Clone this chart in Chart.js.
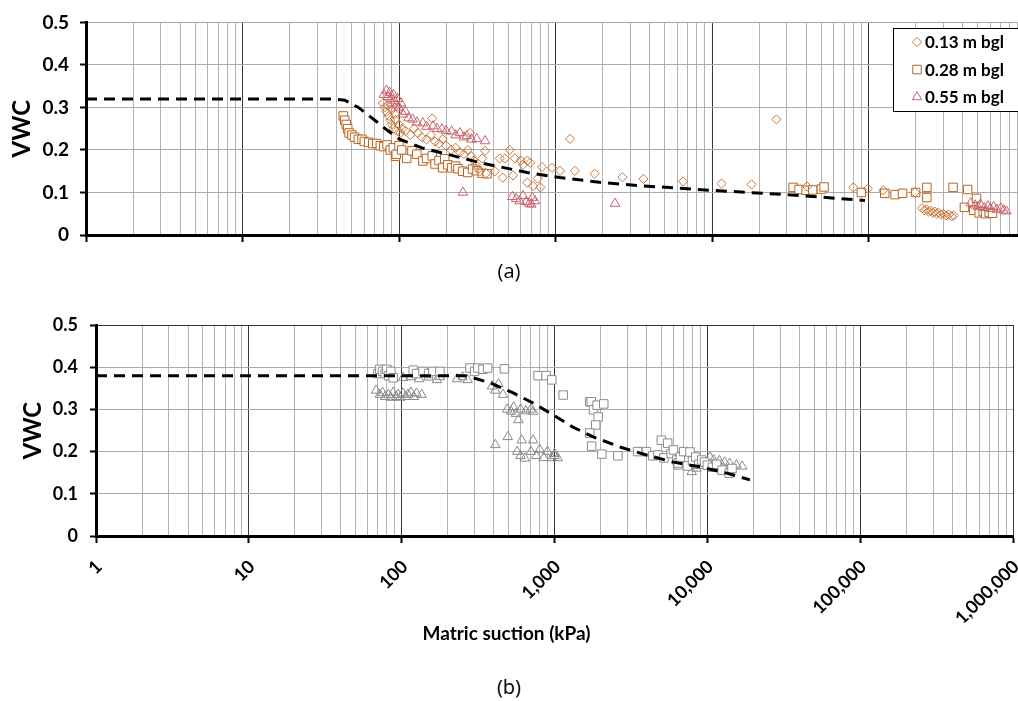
<!DOCTYPE html>
<html>
<head>
<meta charset="utf-8">
<script src="https://cdn.jsdelivr.net/npm/chart.js@4.4.1/dist/chart.umd.min.js"></script>
<style>
  html, body { margin: 0; padding: 0; background: #fff; width: 1018px; height: 701px; overflow: hidden; }
  #wrapA { position: absolute; left: 0; top: 0; width: 1018px; height: 260px; overflow: hidden; }
  #wrapB { position: absolute; left: 0; top: 300px; width: 1018px; height: 350px; overflow: hidden; }
  .cap { position: absolute; left: 0; width: 1018px; text-align: center; font-family: "Open Sans", sans-serif; font-size: 20px; color: #000; }
</style>
</head>
<body>
<div id="wrapA"><canvas id="chartA" width="1040" height="260"></canvas></div>
<div class="cap" style="top:257px">(a)</div>
<div id="wrapB"><canvas id="chartB" width="1030" height="350"></canvas></div>
<div class="cap" style="top:673px">(b)</div>

<script>
// ---- Panel (a): field sensors at three depths ----
const depthLabels = ['0.13 m bgl', '0.28 m bgl', '0.55 m bgl'];

const suction013 = [79, 81, 83, 85, 86, 88, 90, 90, 92, 94, 95, 97, 100, 102, 105, 110, 118, 125, 132, 140,
  150, 160, 163, 170, 180, 190, 200, 215, 230, 245, 260, 275, 284, 290, 300, 310, 320, 330, 340, 355,
  360, 410, 440, 460, 475, 510, 535, 550, 600, 620, 660, 660, 690, 720, 770, 800, 820, 950, 1070, 1240,
  1330, 1780, 2680, 3650, 6540, 11500, 17900, 25800, 40500, 80000, 99000, 124000, 198000, 220000, 228000, 235000,
  242000, 250000, 258000, 265000, 272000, 280000, 290000, 300000, 312000, 325000, 340000, 350000];
const vwc013 = [0.31, 0.30, 0.29, 0.305, 0.28, 0.27, 0.295, 0.26, 0.25, 0.285, 0.27, 0.245, 0.26, 0.24, 0.25, 0.245, 0.235, 0.25, 0.24, 0.23,
  0.225, 0.235, 0.274, 0.22, 0.215, 0.225, 0.21, 0.20, 0.205, 0.195, 0.19, 0.20, 0.24, 0.185, 0.175, 0.165, 0.155, 0.15, 0.18, 0.198,
  0.145, 0.15, 0.18, 0.135, 0.18, 0.20, 0.14, 0.18, 0.175, 0.165, 0.175, 0.123, 0.17, 0.115, 0.133, 0.112, 0.16, 0.158, 0.151, 0.226,
  0.151, 0.144, 0.136, 0.132, 0.126, 0.121, 0.119, 0.272, 0.114, 0.112, 0.109, 0.105, 0.10, 0.063, 0.058, 0.06,
  0.055, 0.057, 0.052, 0.055, 0.05, 0.053, 0.048, 0.05, 0.046, 0.048, 0.044, 0.046];

const suction028 = [44, 45, 46, 47, 48, 50, 52, 55, 58, 60, 64, 68, 72, 76, 80, 84, 88, 92, 95, 96,
  100, 104, 112, 121, 130, 142, 150, 163, 170, 180, 190, 196, 205, 217, 230, 238, 255, 275, 295, 315,
  340, 365, 33000, 36000, 40000, 44000, 50000, 52000, 90000, 127000, 148000, 165000, 200000, 236000, 236000, 347000,
  430000, 410000, 470000, 490000, 510000, 540000, 560000, 590000, 620000];
const vwc028 = [0.28, 0.27, 0.26, 0.25, 0.24, 0.235, 0.23, 0.225, 0.225, 0.22, 0.218, 0.215, 0.215, 0.21, 0.208, 0.212, 0.20, 0.205, 0.185, 0.19,
  0.21, 0.20, 0.18, 0.198, 0.19, 0.174, 0.18, 0.186, 0.167, 0.175, 0.158, 0.179, 0.165, 0.158, 0.162, 0.156, 0.15, 0.147, 0.155, 0.151,
  0.145, 0.144, 0.112, 0.107, 0.105, 0.106, 0.108, 0.113, 0.10, 0.098, 0.095, 0.098, 0.10, 0.112, 0.088, 0.112,
  0.107, 0.065, 0.058, 0.086, 0.052, 0.055, 0.05, 0.053, 0.051];

const suction055 = [80, 83, 85, 87, 89, 90, 92, 94, 96, 98, 100, 103,
  106, 110, 115, 122, 130, 142, 150, 165, 175, 188, 200, 217, 230, 245, 260, 271, 290, 314, 355,
  256, 530, 560, 590, 620, 650, 680, 710, 740, 700, 2400,
  450000, 480000, 500000, 520000, 550000, 580000, 600000, 630000, 660000, 700000, 730000, 760000];
const vwc055 = [0.33, 0.34, 0.325, 0.335, 0.32, 0.31, 0.33, 0.315, 0.305, 0.32, 0.30, 0.31,
  0.284, 0.29, 0.275, 0.272, 0.265, 0.263, 0.255, 0.256, 0.25, 0.249, 0.245, 0.244, 0.235, 0.24, 0.23, 0.233, 0.225, 0.226, 0.221,
  0.10, 0.09, 0.085, 0.08, 0.092, 0.078, 0.074, 0.088, 0.08, 0.072, 0.074,
  0.075, 0.07, 0.066, 0.072, 0.064, 0.068, 0.062, 0.066, 0.06, 0.063, 0.058, 0.056];

// retention curve, panel (a)
const fitSuctionA = [1, 38, 45, 55, 70, 85, 100, 140, 203, 330, 658, 1070, 1910, 3470, 10000, 36500, 95000];
const fitVwcA = [0.32, 0.32, 0.317, 0.30, 0.27, 0.245, 0.226, 0.205, 0.19, 0.170, 0.147, 0.135, 0.124, 0.116, 0.105, 0.093, 0.081];

// ---- Panel (b): laboratory drying data ----
const suctionSqB = [70, 72, 75, 78, 80, 82, 85, 88, 119, 125, 138, 150, 160, 178, 280, 300, 315, 340, 365, 470,
  780, 880, 960, 1140, 1700, 1740, 1800, 1900, 2100, 1930, 1860, 1700, 1750, 2040, 2600,
  3500, 4000, 4400, 4750, 5000, 5200, 5500, 5800, 6000, 6300, 6450, 6660, 7000, 7400, 7700, 8000,
  8400, 8800, 9200, 9600, 10000, 10800, 11500, 12500, 13900, 14500];
const vwcSqB = [0.385, 0.395, 0.39, 0.385, 0.395, 0.38, 0.39, 0.375, 0.393, 0.385, 0.39, 0.385, 0.39, 0.39, 0.398, 0.39, 0.398, 0.395, 0.398, 0.396,
  0.38, 0.38, 0.37, 0.334, 0.318, 0.318, 0.299, 0.31, 0.313, 0.282, 0.263, 0.244, 0.213, 0.194, 0.19,
  0.20, 0.20, 0.19, 0.192, 0.227, 0.185, 0.22, 0.195, 0.204, 0.18, 0.173, 0.187, 0.20, 0.166, 0.199, 0.178,
  0.187, 0.17, 0.18, 0.175, 0.168, 0.163, 0.17, 0.156, 0.149, 0.16];

const suctionTriB = [68, 72, 75, 78, 82, 85, 88, 92, 95, 98, 102, 106, 110, 115, 120, 125, 135,
  102, 115, 130, 150, 170, 178, 230, 250, 270,
  390, 410, 430, 460,
  490, 520, 540, 560, 580, 600, 650, 700, 725,
  410, 495, 610, 725, 570, 600, 640, 700, 760, 800, 850, 900, 960, 1000, 1000, 1050,
  6500, 7900, 8500, 9000, 10400, 11000, 12000, 13000, 14000, 15500, 16900];
const vwcTriB = [0.345, 0.335, 0.34, 0.33, 0.335, 0.328, 0.34, 0.33, 0.335, 0.328, 0.338, 0.33, 0.335, 0.34, 0.33, 0.338, 0.335,
  0.375, 0.377, 0.372, 0.376, 0.37, 0.377, 0.372, 0.377, 0.37,
  0.355, 0.345, 0.36, 0.335,
  0.30, 0.295, 0.305, 0.29, 0.275, 0.30, 0.296, 0.30, 0.295,
  0.216, 0.235, 0.227, 0.227, 0.20, 0.19, 0.184, 0.20, 0.19, 0.205, 0.185, 0.20, 0.185, 0.19, 0.195, 0.185,
  0.165, 0.152, 0.16, 0.17, 0.187, 0.18, 0.178, 0.175, 0.172, 0.168, 0.165];

// retention curve, panel (b)
const fitSuctionB = [1, 252, 267, 380, 537, 725, 980, 1320, 1790, 2680, 4000, 5980, 8950, 13400, 19000];
const fitVwcB = [0.38, 0.38, 0.379, 0.363, 0.339, 0.315, 0.287, 0.258, 0.235, 0.211, 0.192, 0.175, 0.164, 0.149, 0.133];

// ---- axis ticks ----
const suctionDecades = [1, 10, 100, 1000, 10000, 100000, 1000000];
const suctionTickLabels = ['1', '10', '100', '1,000', '10,000', '100,000', '1,000,000'];
const vwcTicks = [0, 0.1, 0.2, 0.3, 0.4, 0.5];
const vwcTickLabels = ['0', '0.1', '0.2', '0.3', '0.4', '0.5'];

const FONT = 'Lato';
const COL013 = '#C87638';
const COL028 = '#B8641F';
const COL055 = '#C8646E';
const GREY = '#8a8a8a';

function pts(xs, ys) { return xs.map((x, i) => ({ x: x, y: ys[i] })); }

// all grid values 1..9 x 10^k between the decades
const gridValues = [];
for (let e = 0; e < suctionDecades.length - 1; e++) {
  for (let m = 1; m <= 9; m++) gridValues.push(m * suctionDecades[e]);
}
gridValues.push(suctionDecades[suctionDecades.length - 1]);
const isDecade = v => suctionDecades.indexOf(v) >= 0;

function xScale(opts) {
  return {
    type: 'logarithmic', min: 1, max: 1000000,
    afterBuildTicks: s => { s.ticks = gridValues.map(v => ({ value: v })); },
    ticks: {
      display: opts.labels, autoSkip: false, minRotation: 45, maxRotation: 45, padding: 13, labelOffset: 3,
      color: '#000', font: { family: FONT, weight: 'bold', size: 18 },
      callback: v => { const i = suctionDecades.indexOf(v); return i >= 0 ? suctionTickLabels[i] : ''; }
    },
    grid: {
      color: c => (c.tick && isDecade(c.tick.value)) ? '#3a3a3a' : '#b4b4b4',
      lineWidth: 1, tickLength: 7, tickWidth: 2,
      tickColor: c => (c.tick && isDecade(c.tick.value)) ? '#000' : 'rgba(0,0,0,0)'
    },
    border: { color: '#000', width: 3 },
    afterFit: s => { s.height = opts.height; s.paddingLeft = 0; s.paddingRight = 0; }
  };
}

function yScale(opts) {
  return {
    min: 0, max: 0.5,
    afterBuildTicks: s => { s.ticks = vwcTicks.map(v => ({ value: v })); },
    ticks: {
      color: '#000', padding: opts.pad, font: { family: FONT, weight: 'bold', size: opts.size },
      callback: (v, i) => vwcTickLabels[i]
    },
    grid: {
      color: c => (opts.darkTop && c.tick && c.tick.value === 0.5) ? '#333' : '#aaaaaa',
      lineWidth: 1, tickLength: 6, tickWidth: 2, tickColor: '#000'
    },
    border: { color: '#000', width: 3 },
    title: {
      display: true, text: 'VWC', color: '#000',
      font: { family: FONT, weight: 'bold', size: 24 }, padding: { top: opts.titlePad, bottom: 0 }
    },
    afterFit: s => { s.width = opts.width; }
  };
}

function markerSet(label, xs, ys, style, colour, radius, fill) {
  return {
    label: label, data: pts(xs, ys), pointStyle: style, pointRadius: radius,
    pointBorderColor: colour, pointBackgroundColor: fill, pointBorderWidth: 1,
    showLine: false, order: 2
  };
}

function curveSet(xs, ys) {
  return {
    label: 'fit', data: pts(xs, ys), showLine: true, pointRadius: 0,
    borderColor: '#000', borderWidth: 3, borderDash: [11, 7], tension: 0, order: 0
  };
}

// in-plot legend box for panel (a)
const legendBox = {
  id: 'legendBox',
  afterDraw(chart) {
    const ctx = chart.ctx;
    const rows = chart.data.datasets.filter(d => d.legendRow !== undefined);
    ctx.save();
    ctx.fillStyle = '#fff';
    ctx.strokeStyle = '#000';
    ctx.lineWidth = 1;
    ctx.fillRect(893.5, 28.5, 160, 83);
    ctx.strokeRect(893.5, 28.5, 160, 83);
    rows.forEach(d => {
      const y = 42 + d.legendRow * 27.5;
      ctx.strokeStyle = d.pointBorderColor;
      ctx.fillStyle = '#fff';
      Chart.helpers.drawPoint(ctx, { pointStyle: d.pointStyle, radius: d.pointRadius, rotation: 0, borderWidth: 1 }, 917, y);
      ctx.fillStyle = '#000';
      ctx.font = 'bold 17px ' + FONT;
      ctx.textBaseline = 'middle';
      ctx.textAlign = 'left';
      ctx.fillText(d.label, 925, y + 1);
    });
    ctx.restore();
  }
};

const common = {
  responsive: false, animation: false, events: [],
  plugins: { legend: { display: false }, tooltip: { enabled: false } }
};

// panel (a)
const setsA = [
  curveSet(fitSuctionA, fitVwcA),
  Object.assign(markerSet(depthLabels[2], suction055, vwc055, 'triangle', COL055, 5.5, 'rgba(255,255,255,0)'), { legendRow: 2 }),
  Object.assign(markerSet(depthLabels[0], suction013, vwc013, 'rectRot', COL013, 4.6, 'rgba(255,255,255,0)'), { legendRow: 0 }),
  Object.assign(markerSet(depthLabels[1], suction028, vwc028, 'rect', COL028, 6, '#fff'), { legendRow: 1 })
];
new Chart(document.getElementById('chartA'), {
  type: 'scatter',
  data: { datasets: setsA },
  options: Object.assign({}, common, {
    layout: { padding: { top: 21, right: 15, left: 0, bottom: 0 } },
    scales: {
      x: xScale({ labels: false, height: 25 }),
      y: yScale({ size: 19, pad: 11, width: 86, titlePad: 8, darkTop: false })
    }
  }),
  plugins: [legendBox]
});

// panel (b)
const setsB = [
  curveSet(fitSuctionB, fitVwcB),
  markerSet('squares', suctionSqB, vwcSqB, 'rect', GREY, 6, '#fff'),
  markerSet('triangles', suctionTriB, vwcTriB, 'triangle', GREY, 5.5, 'rgba(255,255,255,0)')
];
new Chart(document.getElementById('chartB'), {
  type: 'scatter',
  data: { datasets: setsB },
  options: Object.assign({}, common, {
    layout: { padding: { top: 25, right: 17, left: 0, bottom: 0 } },
    plugins: {
      legend: { display: false }, tooltip: { enabled: false },
      title: {
        display: true, position: 'bottom', text: 'Matric suction (kPa)', color: '#000',
        font: { family: FONT, weight: 'bold', size: 19 }, padding: { top: 0, bottom: 4.6 }
      }
    },
    scales: {
      x: xScale({ labels: true, height: 350 - 22.8 - 4.6 - 236 }),
      y: yScale({ size: 18, pad: 12, width: 96, titlePad: 19, darkTop: true })
    }
  })
});
</script>
</body>
</html>
